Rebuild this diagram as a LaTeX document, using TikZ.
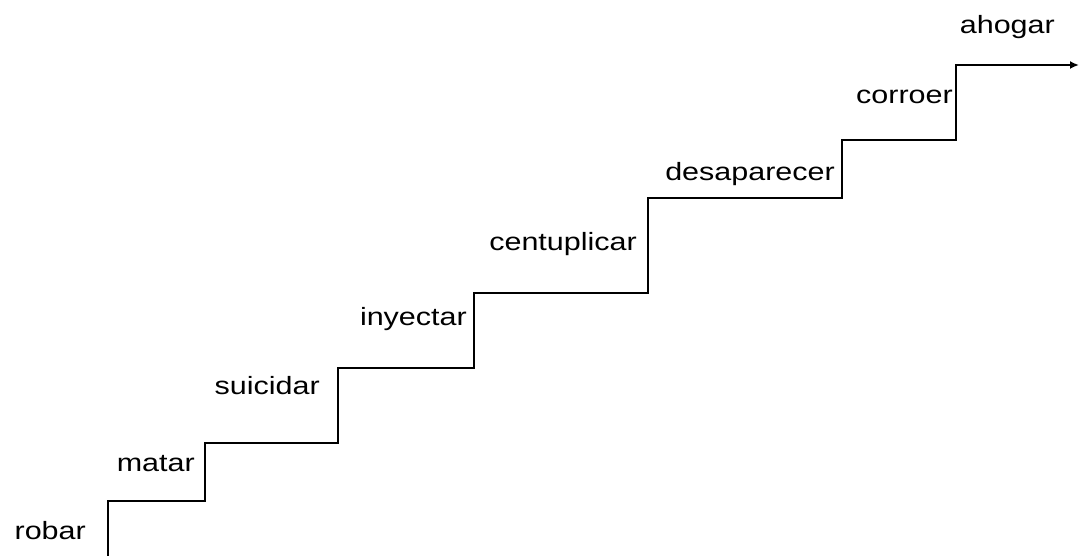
\documentclass[tikz,border=0pt]{standalone}
\usepackage{fontspec}
\setmainfont{Liberation Sans}
\usetikzlibrary{arrows.meta}
\begin{document}
\begin{tikzpicture}[x=1pt,y=-1pt,
  lbl/.style={anchor=base east,inner sep=0pt,font=\fontsize{25}{30}\selectfont},
  stair/.style={line width=2pt,line join=miter,-{Latex[length=9pt,width=8pt]}}]
\useasboundingbox (0,0) rectangle (1080,556);
% corners of the staircase
\coordinate (c0) at (108,556);
\coordinate (c1) at (108,501);
\coordinate (c2) at (205,501);
\coordinate (c3) at (205,443);
\coordinate (c4) at (338,443);
\coordinate (c5) at (338,368);
\coordinate (c6) at (474,368);
\coordinate (c7) at (474,293);
\coordinate (c8) at (648,293);
\coordinate (c9) at (648,198);
\coordinate (c10) at (842,198);
\coordinate (c11) at (842,140);
\coordinate (c12) at (956,140);
\coordinate (c13) at (956,65);
\coordinate (c14) at (1079,65);
\draw[stair] (c0) -- (c1) -- (c2) -- (c3) -- (c4) -- (c5) -- (c6) -- (c7) -- (c8) -- (c9) -- (c10) -- (c11) -- (c12) -- (c13) -- (c14);
% labels
\node[lbl] (robar) at (86,539) {\scalebox{1.22}[1]{robar}};
\node[lbl] (matar) at (195,471) {\scalebox{1.22}[1]{matar}};
\node[lbl] (suicidar) at (320,394) {\scalebox{1.22}[1]{suicidar}};
\node[lbl] (inyectar) at (467,326) {\scalebox{1.22}[1]{inyectar}};
\node[lbl] (centuplicar) at (637,251) {\scalebox{1.22}[1]{centuplicar}};
\node[lbl] (desaparecer) at (835,181) {\scalebox{1.22}[1]{desaparecer}};
\node[lbl] (corroer) at (953,104) {\scalebox{1.22}[1]{corroer}};
\node[lbl] (ahogar) at (1055,34) {\scalebox{1.22}[1]{ahogar}};
\end{tikzpicture}
\end{document}
